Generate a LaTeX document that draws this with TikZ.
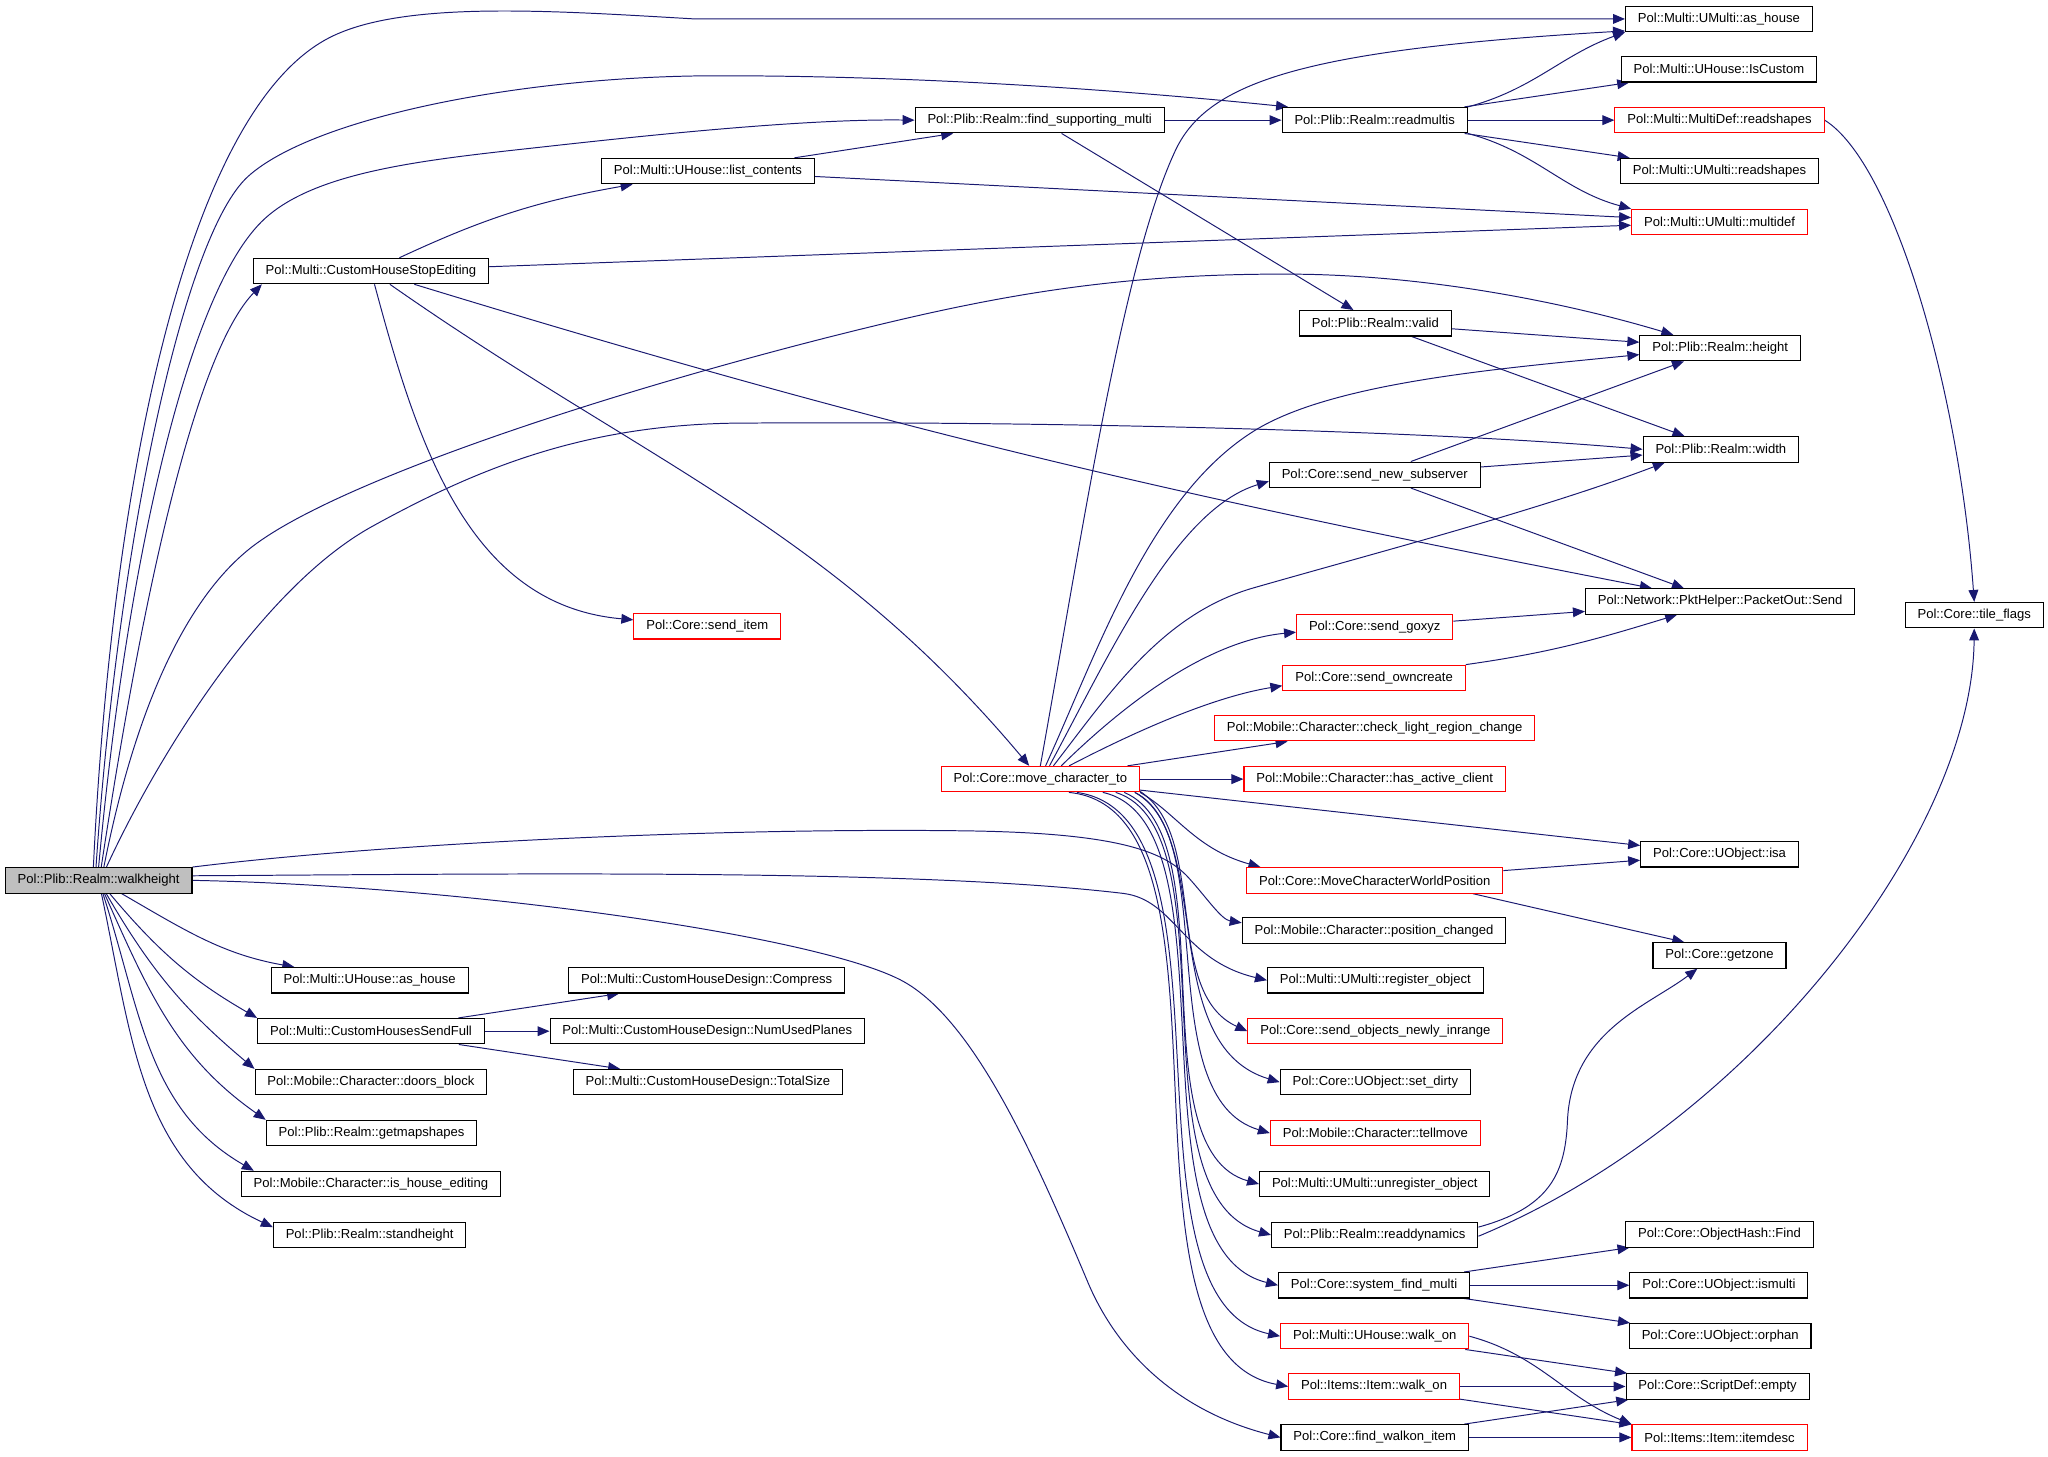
\documentclass[tikz,border=0pt]{standalone}
\usepackage{fontspec}
\setmainfont{Liberation Sans}
\usetikzlibrary{arrows.meta}
\usetikzlibrary{calc}
\pgfdeclarelayer{edgelayer}
\pgfdeclarelayer{nodelayer}
\pgfsetlayers{edgelayer,nodelayer,main}
\definecolor{midnight}{RGB}{25,25,112}
\tikzstyle{call_node}=[rectangle,draw=black,fill=white,line width=0.5pt,minimum height=11.7pt,inner xsep=5.7pt,inner ysep=0pt,font=\fontsize{6}{7}\selectfont]
\tikzstyle{root_node}=[call_node,fill=black!25]
\tikzstyle{cut_node}=[call_node,draw=red]
\tikzstyle{calls}=[-{Triangle[length=5.5pt,width=4.5pt]},draw=midnight,line width=0.45pt]

\begin{document}
\begin{tikzpicture}[x=0.6pt,y=-0.6pt]
	\useasboundingbox (0,0) rectangle (1568,1115);
	\begin{pgfonlayer}{nodelayer}
		\node [style=root_node] (0) at (75.5, 674) {Pol::Plib::Realm::walkheight};
		\node [style=call_node] (1) at (284, 207.5) {Pol::Multi::CustomHouseStopEditing};
		\node [style=call_node] (2) at (283, 750.5) {Pol::Multi::UHouse::as\_house};
		\node [style=call_node] (3) at (284, 789.5) {Pol::Multi::CustomHousesSendFull};
		\node [style=call_node] (4) at (284, 828.5) {Pol::Mobile::Character::doors\_block};
		\node [style=call_node] (5) at (284.5, 867.5) {Pol::Plib::Realm::getmapshapes};
		\node [style=call_node] (6) at (284, 906.5) {Pol::Mobile::Character::is\_house\_editing};
		\node [style=call_node] (7) at (283, 945.5) {Pol::Plib::Realm::standheight};
		\node [style=call_node] (8) at (542, 131) {Pol::Multi::UHouse::list\_contents};
		\node [style=cut_node] (9) at (541.5, 479.5) {Pol::Core::send\_item};
		\node [style=call_node] (10) at (541, 750.5) {Pol::Multi::CustomHouseDesign::Compress};
		\node [style=call_node] (11) at (541.5, 789.5) {Pol::Multi::CustomHouseDesign::NumUsedPlanes};
		\node [style=call_node] (12) at (542, 828.5) {Pol::Multi::CustomHouseDesign::TotalSize};
		\node [style=call_node] (13) at (796, 92) {Pol::Plib::Realm::find\_supporting\_multi};
		\node [style=cut_node] (14) at (796.5, 596.5) {Pol::Core::move\_character\_to};
		\node [style=call_node] (15) at (1052.5, 92) {Pol::Plib::Realm::readmultis};
		\node [style=call_node] (16) at (1053, 247.5) {Pol::Plib::Realm::valid};
		\node [style=call_node] (17) at (1052.5, 363.5) {Pol::Core::send\_new\_subserver};
		\node [style=cut_node] (18) at (1052.5, 480) {Pol::Core::send\_goxyz};
		\node [style=cut_node] (19) at (1052, 519) {Pol::Core::send\_owncreate};
		\node [style=cut_node] (20) at (1052.5, 557.5) {Pol::Mobile::Character::check\_light\_region\_change};
		\node [style=cut_node] (21) at (1052.5, 596.5) {Pol::Mobile::Character::has\_active\_client};
		\node [style=cut_node] (22) at (1052.5, 674) {Pol::Core::MoveCharacterWorldPosition};
		\node [style=call_node] (23) at (1052, 712.5) {Pol::Mobile::Character::position\_changed};
		\node [style=call_node] (24) at (1053, 750.5) {Pol::Multi::UMulti::register\_object};
		\node [style=cut_node] (25) at (1053, 789.5) {Pol::Core::send\_objects\_newly\_inrange};
		\node [style=call_node] (26) at (1053, 828.5) {Pol::Core::UObject::set\_dirty};
		\node [style=cut_node] (27) at (1053, 867.5) {Pol::Mobile::Character::tellmove};
		\node [style=call_node] (28) at (1052.5, 906.5) {Pol::Multi::UMulti::unregister\_object};
		\node [style=call_node] (29) at (1052.5, 945.5) {Pol::Plib::Realm::readdynamics};
		\node [style=call_node] (30) at (1052, 984) {Pol::Core::system\_find\_multi};
		\node [style=cut_node] (31) at (1052.5, 1023) {Pol::Multi::UHouse::walk\_on};
		\node [style=cut_node] (32) at (1052, 1061.5) {Pol::Items::Item::walk\_on};
		\node [style=call_node] (33) at (1052.5, 1100.5) {Pol::Core::find\_walkon\_item};
		\node [style=call_node] (34) at (1316, 14.5) {Pol::Multi::UMulti::as\_house};
		\node [style=call_node] (35) at (1316, 53) {Pol::Multi::UHouse::IsCustom};
		\node [style=cut_node] (36) at (1316.5, 92) {Pol::Multi::MultiDef::readshapes};
		\node [style=call_node] (37) at (1316.5, 131) {Pol::Multi::UMulti::readshapes};
		\node [style=cut_node] (38) at (1316.5, 170) {Pol::Multi::UMulti::multidef};
		\node [style=call_node] (39) at (1317, 266.5) {Pol::Plib::Realm::height};
		\node [style=call_node] (40) at (1317.5, 344) {Pol::Plib::Realm::width};
		\node [style=call_node] (41) at (1317, 460.5) {Pol::Network::PktHelper::PacketOut::Send};
		\node [style=call_node] (42) at (1316.5, 654) {Pol::Core::UObject::isa};
		\node [style=call_node] (43) at (1316.5, 731.5) {Pol::Core::getzone};
		\node [style=call_node] (44) at (1316.5, 945) {Pol::Core::ObjectHash::Find};
		\node [style=call_node] (45) at (1316, 984) {Pol::Core::UObject::ismulti};
		\node [style=call_node] (46) at (1317, 1023) {Pol::Core::UObject::orphan};
		\node [style=call_node] (47) at (1315, 1061.5) {Pol::Core::ScriptDef::empty};
		\node [style=cut_node] (48) at (1316.5, 1100.5) {Pol::Items::Item::itemdesc};
		\node [style=call_node] (49) at (1511.5, 471) {Pol::Core::tile\_flags};
	\end{pgfonlayer}
	\begin{pgfonlayer}{edgelayer}
		\draw [style=calls] ($(0.north)+(-4,0)$) .. controls (85,380) and (140,90) .. (250,30) .. controls (305,0) and (420,8) .. (532,14.5) -- (34.west);
		\draw [style=calls] ($(0.north)+(-2,0)$) .. controls (90,420) and (140,180) .. (190,135) .. controls (240,90) and (400,58) .. (550,58) .. controls (700,58) and (850,68) .. ($(15.north west)+(5,0)$);
		\draw [style=calls] (0.north) .. controls (95,450) and (140,230) .. (200,170) .. controls (240,130) and (330,122) .. (420,112) .. controls (510,102) and (620,91) .. (13.west);
		\draw [style=calls] ($(0.north)+(2,0)$) .. controls (110,450) and (150,270) .. ($(1.south west)+(7,0)$);
		\draw [style=calls] ($(0.north)+(4,0)$) .. controls (100,560) and (135,466) .. (190,421) .. controls (250,372) and (450,305) .. (635,258) .. controls (750,229) and (850,208) .. (1000,210) .. controls (1100,212) and (1200,232) .. ($(39.north west)+(26,0)$);
		\draw [style=calls] ($(0.north)+(6,0)$) .. controls (120,580) and (200,450) .. (285,403) .. controls (370,356) and (450,326) .. (560,324) .. controls (800,322) and (1100,330) .. (40.west);
		\draw [style=calls] (0.north east) .. controls (300,645) and (550,634) .. (730,636) .. controls (850,637) and (890,650) .. (910,672) .. controls (923.6,687) and (935,704) .. ($(23.west)+(0,-6)$);
		\draw [style=calls] ($(0.east)+(0,-3.5)$) .. controls (400,669) and (700,665) .. (860,684) .. controls (900,689) and (905,735) .. (24.west);
		\draw [style=calls] (0.east) .. controls (350,678) and (620,715) .. (689,750) .. controls (744,778) and (790,880) .. (833,982) .. controls (855,1034) and (900,1080) .. (33.west);
		\draw [style=calls] (0) to [out=-30, in=170] (2);
		\draw [style=calls] (0) to [out=-50, in=150] (3.north west);
		\draw [style=calls] (0) to [out=-60, in=140] (4.north west);
		\draw [style=calls] (0) to [out=-66, in=145] (5.north west);
		\draw [style=calls] (0) to [out=-72, in=150] ($(6.north west)+(10,0)$);
		\draw [style=calls] (0) to [out=-78, in=155] ($(7.west)+(0,-6)$);
		\draw [style=calls] (1) to [out=25, in=190] (8);
		\draw [style=calls] (1) to (38);
		\draw [style=calls] (1) to [out=-75, in=175] (9);
		\draw [style=calls] (1) to [out=-35, in=130] (14);
		\draw [style=calls] (1) to [out=-17, in=169] (41);
		\draw [style=calls] (3) to (10);
		\draw [style=calls] (3) to (11);
		\draw [style=calls] (3) to (12);
		\draw [style=calls] (8) to (13);
		\draw [style=calls] (8) to (38);
		\draw [style=calls] (13) to (15);
		\draw [style=calls] (13) to (16);
		\draw [style=calls] (15.north east) to [out=15, in=200] (34.south west);
		\draw [style=calls] (15) to (35);
		\draw [style=calls] (15) to (36);
		\draw [style=calls] (15) to (37);
		\draw [style=calls] (15.south east) to [out=-15, in=165] (38.north west);
		\draw [style=calls] (36.east) .. controls (1450,125) and (1500,300) .. (49.north);
		\draw [style=calls] (16) to (39);
		\draw [style=calls] (16) to (40);
		\draw [style=calls] (17) to (39);
		\draw [style=calls] (17) to (40);
		\draw [style=calls] (17) to (41);
		\draw [style=calls] (18) to (41);
		\draw [style=calls] (19.north east) to [out=8, in=197] ($(41.south)+(-33,0)$);
		\draw [style=calls] (22) to (42);
		\draw [style=calls] ($(22.south)+(75,0)$) to ($(43.north)+(-27,0)$);
		\draw [style=calls] ($(29.east)+(0,-6)$) .. controls (1185,925) and (1198,900) .. (1200,860) .. controls (1202,790) and (1262,770) .. ($(43.south)+(-17,0)$);
		\draw [style=calls] ($(29.east)+(0,1)$) .. controls (1340,860) and (1510,640) .. (49.south);
		\draw [style=calls] (30) to (44);
		\draw [style=calls] (30) to (45);
		\draw [style=calls] (30) to (46);
		\draw [style=calls] (31) to (47);
		\draw [style=calls] (31.east) to [out=-15, in=158] (48.north west);
		\draw [style=calls] (32) to (47);
		\draw [style=calls] (32) to (48);
		\draw [style=calls] (33) to (47);
		\draw [style=calls] (33) to (48);
		\draw [style=calls] (14.north) .. controls (830,400) and (860,200) .. (900,115) .. controls (925,62) and (1000,38) .. ($(34.south west)+(0,-1)$);
		\draw [style=calls] ($(14.north)+(4,0)$) .. controls (840,500) and (880,380) .. (960,330) .. controls (1020,292.5) and (1150,282) .. ($(39.west)+(0,5)$);
		\draw [style=calls] ($(14.north)+(7,0)$) .. controls (850,500) and (900,390) .. ($(17.west)+(0,5)$);
		\draw [style=calls] ($(14.north)+(10,0)$) .. controls (850,530) and (890,470) .. (960,450) .. controls (1060,421.4) and (1180,390) .. ($(40.south west)+(17,0)$);
		\draw [style=calls] ($(14.north)+(16,0)$) .. controls (870,530) and (930,490) .. ($(18.west)+(0,4)$);
		\draw [style=calls] ($(14.north)+(22,0)$) .. controls (850,570) and (920,535) .. ($(19.west)+(0,6)$);
		\draw [style=calls] (14) to (20);
		\draw [style=calls] (14) to (21);
		\draw [style=calls] (14) to (42);
		\draw [style=calls] (14.south east) .. controls (900,622) and (915,650) .. ($(22.north west)+(11,0)$);
		\draw [style=calls] (14.-7.5) .. controls (925,640) and (890,760) .. (25.west);
		\draw [style=calls] (14.-8) .. controls (930,640) and (885,800) .. (26.west);
		\draw [style=calls] (14.-8.5) .. controls (935,640) and (880,840) .. (27.west);
		\draw [style=calls] (14.-9) .. controls (940,640) and (870,880) .. (28.west);
		\draw [style=calls] (14.-10) .. controls (945,635) and (865,915) .. (29.west);
		\draw [style=calls] (14.-12) .. controls (950,630) and (860,955) .. (30.west);
		\draw [style=calls] (14.-20) .. controls (955,625) and (850,995) .. (31.west);
		\draw [style=calls] (14.-25) .. controls (960,620) and (840,1035) .. (32.west);
	\end{pgfonlayer}
\end{tikzpicture}
\end{document}
